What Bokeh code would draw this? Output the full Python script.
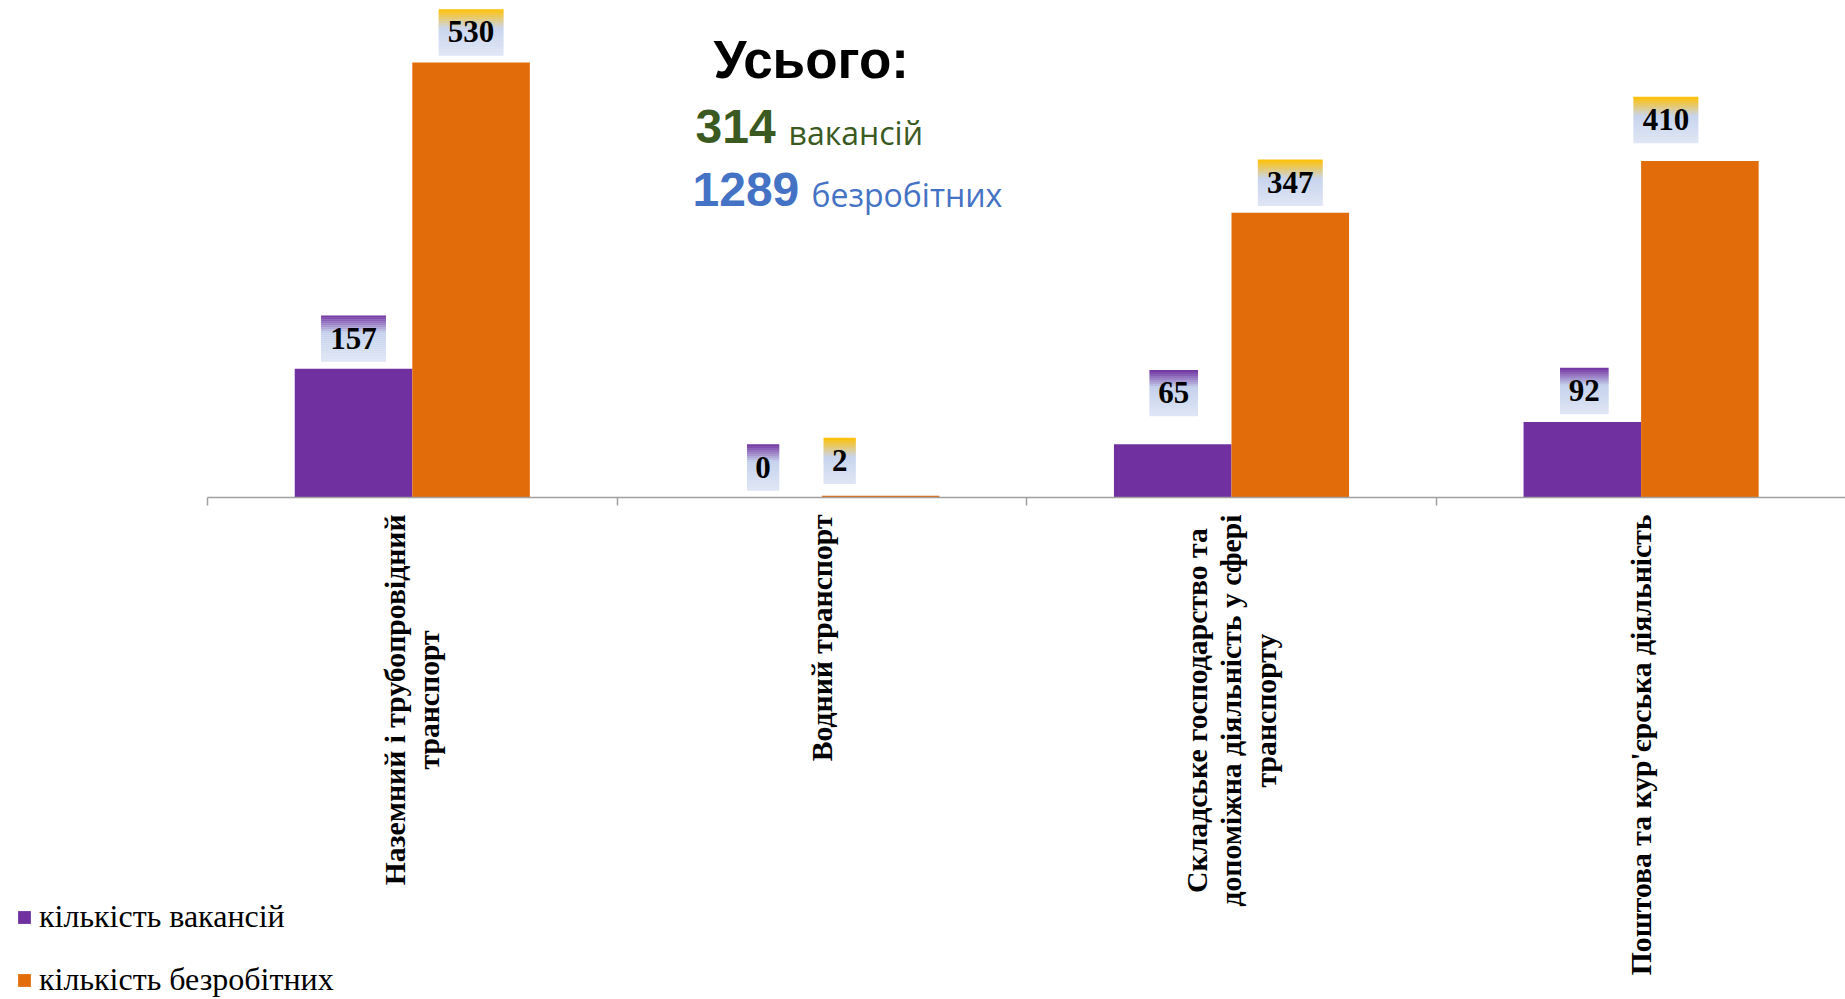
import math
import numpy as np
from bokeh.plotting import figure
from bokeh.models import Range1d, LinearAxis, FixedTicker, Legend, LegendItem, Label
from bokeh.embed import file_html
from bokeh.resources import INLINE
from bokeh.core.properties import value

# ---------------- data ----------------
categories = [
    "Наземний і трубопровідний\nтранспорт",
    "Водний транспорт",
    "Складське господарство та\nдопоміжна діяльність у сфері\nтранспорту",
    "Поштова та кур'єрська діяльність",
]
vacancies = [157, 0, 65, 92]
unemployed = [530, 2, 347, 410]
series_names = ["кількість вакансій", "кількість безробітних"]
title_text = "Усього:"
vac_word = "вакансій"
unemp_word = "безробітних"

# label position tweaks (screen px) as in the original slide
vac_label_dx = [0, 0, 1, 2]
vac_label_gap = [7, 7, 28, 8]
unemp_label_dx = [0, -41, 0, -34]
unemp_label_gap = [7, 12, 7, 18]

# ---------------- layout ----------------
W, H = 1845, 999
PX0 = 207.0      # figure x pixel of category axis start
XS = 409.6       # px per category
FY0 = 497.0      # figure y pixel of value 0
YS = 0.8208      # px per unit

PURPLE = "#7030A0"
ORANGE = "#E36C0A"

x_start, x_end = -PX0 / XS, (W - PX0) / XS
y_start, y_end = -(H - FY0) / YS, FY0 / YS

p = figure(width=W, height=H, x_range=Range1d(x_start, x_end), y_range=Range1d(y_start, y_end),
           output_backend="svg", toolbar_location=None, min_border=0,
           x_axis_type=None, y_axis_type=None)
p.outline_line_color = None
p.background_fill_color = "white"
p.border_fill_color = "white"

n = len(categories)
idx = np.arange(n)
bw = 0.287
xv = idx + 0.5 - bw / 2
xu = idx + 0.5 + bw / 2

r_vac = p.vbar(x=xv, top=vacancies, bottom=0, width=bw, fill_color=PURPLE, line_color=None)
r_un = p.vbar(x=xu, top=unemployed, bottom=0, width=bw, fill_color=ORANGE, line_color=None)

# axis with boundary ticks
ax_ticks = LinearAxis(fixed_location=0, bounds=(0, n), ticker=FixedTicker(ticks=list(range(n + 1))),
                      major_label_text_color=None, major_tick_in=0, major_tick_out=8,
                      minor_tick_in=0, minor_tick_out=0,
                      axis_line_color="#A0A0A0", axis_line_width=1.5,
                      major_tick_line_color="#A0A0A0", major_tick_line_width=1.5)
p.add_layout(ax_ticks, "below")

# category labels (rotated, lines centred)
centers = idx + 0.5
p.text(x=centers, y=[-17 / YS] * n, text=categories, angle=math.pi / 2,
       anchor="center_right", text_align="center",
       text_font=value("Liberation Serif"), text_font_style="bold", text_font_size="29.7px",
       text_color="black", text_line_height=1.07)


# gradient label boxes
def grad(c_top, c_mid, c_bot, k_n, mid=0.4):
    out = []
    for k in range(k_n):
        t = (k + 0.5) / k_n
        if t < mid:
            a, b, f = c_top, c_mid, t / mid
        else:
            a, b, f = c_mid, c_bot, (t - mid) / (1 - mid)
        out.append("#%02x%02x%02x" % tuple(int(round(a[i] + (b[i] - a[i]) * f)) for i in range(3)))
    return out


NS = 23
BOX_H = 46
strip_h = BOX_H / NS
pur_grad = grad((112, 48, 160), (197, 210, 237), (223, 230, 244), NS, 0.38)
yel_grad = grad((255, 192, 0), (200, 212, 238), (223, 230, 244), NS, 0.42)


def add_labels(xs, vals, dxs, gaps, cols):
    sx, sy, sw, sc = [], [], [], []
    tx, ty, tt = [], [], []
    for x, v, dx, g in zip(xs, vals, dxs, gaps):
        s = str(v)
        w = 16 + 16.3 * len(s)
        xc = x + dx / XS
        for k in range(NS):
            above = g + BOX_H - (k + 0.5) * strip_h
            sx.append(xc)
            sy.append(v + above / YS)
            sw.append(w)
            sc.append(cols[k])
        tx.append(xc)
        ty.append(v + (g + 23.5) / YS)
        tt.append(s)
    p.rect(x=sx, y=sy, width=sw, height=strip_h + 0.4, width_units="screen", height_units="screen",
           fill_color=sc, line_color=None)
    p.text(x=tx, y=ty, text=tt, text_align="center", text_baseline="alphabetic",
           text_font=value("Liberation Serif"), text_font_style="bold", text_font_size="31px",
           text_color="black")


add_labels(xv, vacancies, vac_label_dx, vac_label_gap, pur_grad)
add_labels(xu, unemployed, unemp_label_dx, unemp_label_gap, yel_grad)

# totals text
GREEN = "#3A5A22"
BLUE = "#4472C4"
tot_v = sum(vacancies)
tot_u = sum(unemployed)
p.add_layout(Label(x=713, y=940, x_units="screen", y_units="screen", text=title_text,
                   text_font="Liberation Sans", text_font_style="bold", text_font_size="53px",
                   text_color="black", text_baseline="alphabetic"))
p.add_layout(Label(x=695, y=873, x_units="screen", y_units="screen", text=str(tot_v),
                   text_font="Liberation Sans", text_font_style="bold", text_font_size="48px",
                   text_color=GREEN, text_baseline="alphabetic"))
p.add_layout(Label(x=788, y=867, x_units="screen", y_units="screen", text=vac_word,
                   text_font="Open Sans", text_font_size="32px",
                   text_color=GREEN, text_baseline="alphabetic"))
p.add_layout(Label(x=692, y=810, x_units="screen", y_units="screen", text=str(tot_u),
                   text_font="Liberation Sans", text_font_style="bold", text_font_size="48px",
                   text_color=BLUE, text_baseline="alphabetic"))
p.add_layout(Label(x=811, y=805, x_units="screen", y_units="screen", text=unemp_word,
                   text_font="Open Sans", text_font_size="32px",
                   text_color=BLUE, text_baseline="alphabetic"))

legend = Legend(items=[LegendItem(label=series_names[0], renderers=[r_vac]),
                       LegendItem(label=series_names[1], renderers=[r_un])],
                location=(16, 1), orientation="vertical", glyph_width=16, glyph_height=16,
                label_standoff=7, label_text_font="Liberation Serif", label_text_font_size="32px",
                label_text_color="black",
                spacing=26, padding=0, margin=0, border_line_color=None, background_fill_alpha=0)
p.add_layout(legend)

open("out.html", "w").write(file_html(p, INLINE))
